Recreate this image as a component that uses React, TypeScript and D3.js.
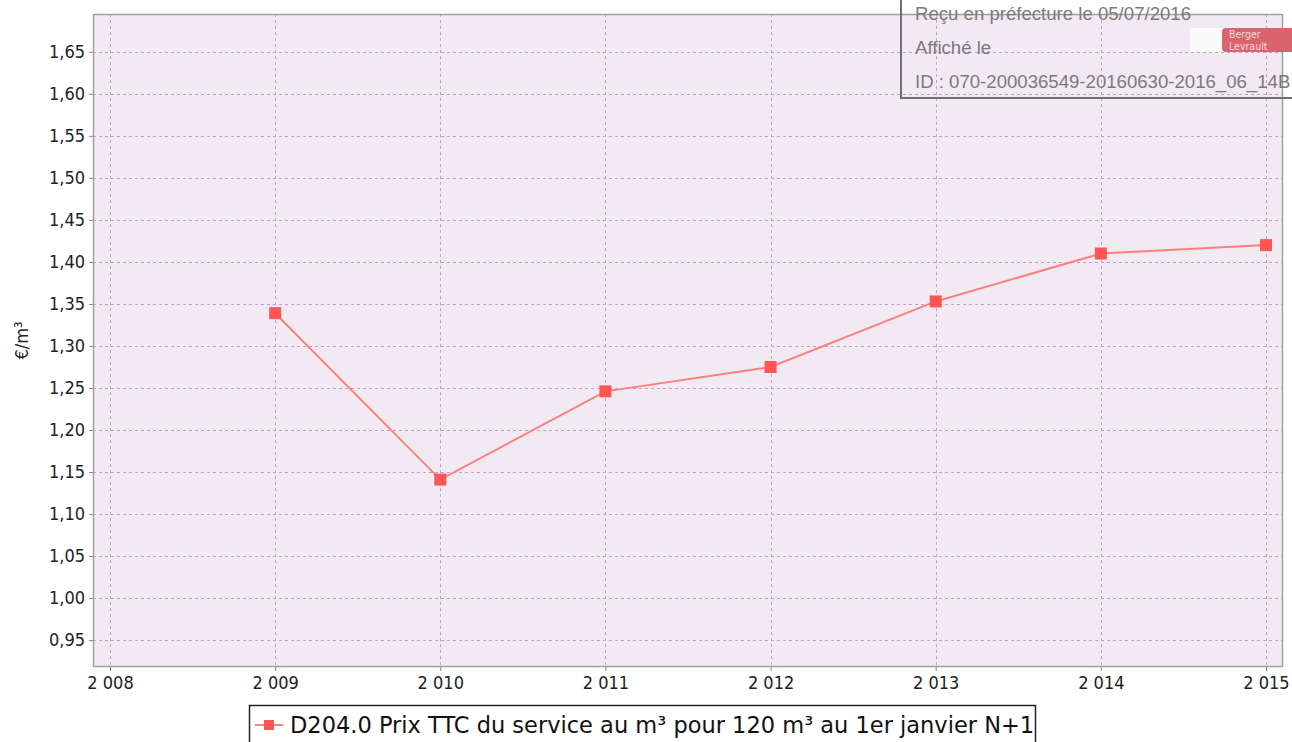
import { useEffect, useRef } from 'react';
import * as d3 from 'd3';

const years = [2009, 2010, 2011, 2012, 2013, 2014, 2015];
const prices = [1.339, 1.141, 1.246, 1.275, 1.353, 1.41, 1.42];
const xTicks = [2008, 2009, 2010, 2011, 2012, 2013, 2014, 2015];
const yTicks = [0.95, 1.0, 1.05, 1.1, 1.15, 1.2, 1.25, 1.3, 1.35, 1.4, 1.45, 1.5, 1.55, 1.6, 1.65];
const seriesName = 'D204.0 Prix TTC du service au m³ pour 120 m³ au 1er janvier N+1';
const stampLines = [
  'Reçu en préfecture le 05/07/2016',
  'Affiché le',
  'ID : 070-200036549-20160630-2016_06_14B',
];

const W = 1292;
const H = 742;
const LEFT = 93;
const RIGHT = 1283;
const TOP = 14;
const BOTTOM = 667;
const LINE = '#ff7f7f';
const MARK = '#ff5555';
const FONT = '"DejaVu Sans Condensed", "DejaVu Sans", sans-serif';

export default function App() {
  const svgRef = useRef<SVGSVGElement>(null);

  useEffect(() => {
    if (!svgRef.current) return;
    const svg = d3.select(svgRef.current);
    svg.selectAll('*').remove();

    const x = d3.scaleLinear().domain([2007.897, 2015.103]).range([LEFT, RIGHT]);
    const y = d3.scaleLinear().domain([0.918, 1.695]).range([BOTTOM, TOP]);

    // plot background
    svg.append('rect')
      .attr('x', LEFT).attr('y', TOP)
      .attr('width', RIGHT - LEFT).attr('height', BOTTOM - TOP)
      .attr('fill', '#f2eaf2');

    // grid
    const grid = svg.append('g').attr('stroke', '#c89ccc').attr('stroke-width', 1)
      .attr('stroke-dasharray', '3,3');
    grid.selectAll('line.h').data(yTicks).join('line')
      .attr('x1', LEFT).attr('x2', RIGHT)
      .attr('y1', (d) => Math.round(y(d)) + 0.5).attr('y2', (d) => Math.round(y(d)) + 0.5);
    grid.selectAll('line.v').data(xTicks).join('line')
      .attr('y1', TOP).attr('y2', BOTTOM)
      .attr('x1', (d) => Math.round(x(d)) + 0.5).attr('x2', (d) => Math.round(x(d)) + 0.5);

    // frame
    svg.append('rect')
      .attr('x', LEFT + 0.5).attr('y', TOP + 0.5)
      .attr('width', RIGHT - LEFT - 1).attr('height', BOTTOM - TOP - 1)
      .attr('fill', 'none').attr('stroke', '#a0a0a0').attr('stroke-width', 1.5);

    // y axis
    const yAxis = svg.append('g').attr('transform', `translate(${LEFT},0)`)
      .call(d3.axisLeft(y).tickValues(yTicks).tickSize(4).tickPadding(4)
        .tickFormat((d) => d3.format('.2f')(d as number).replace('.', ',')));
    yAxis.select('.domain').remove();
    yAxis.selectAll('line').attr('stroke', '#888');
    yAxis.selectAll('text').attr('font-family', FONT).attr('font-size', 18).attr('fill', '#222');

    // x axis
    const xAxis = svg.append('g').attr('transform', `translate(0,${BOTTOM})`)
      .call(d3.axisBottom(x).tickValues(xTicks).tickSize(4).tickPadding(5)
        .tickFormat((d) => {
          const s = String(d);
          return s[0] + ' ' + s.slice(1);
        }));
    xAxis.select('.domain').remove();
    xAxis.selectAll('line').attr('stroke', '#888');
    xAxis.selectAll('text').attr('font-family', FONT).attr('font-size', 18).attr('fill', '#222');

    // y title
    svg.append('text')
      .attr('transform', `translate(28,${(TOP + BOTTOM) / 2}) rotate(-90)`)
      .attr('text-anchor', 'middle')
      .attr('font-family', FONT).attr('font-size', 18).attr('fill', '#222')
      .text('€/m³');

    // series
    const pts = years.map((yr, i) => [yr, prices[i]] as [number, number]);
    svg.append('path')
      .datum(pts)
      .attr('d', d3.line<[number, number]>().x((d) => x(d[0])).y((d) => y(d[1])))
      .attr('fill', 'none').attr('stroke', LINE).attr('stroke-width', 2);
    svg.selectAll('rect.pt').data(pts).join('rect')
      .attr('x', (d) => x(d[0]) - 6).attr('y', (d) => y(d[1]) - 6)
      .attr('width', 12).attr('height', 12)
      .attr('fill', MARK);

    // legend
    const leg = svg.append('g');
    leg.append('rect')
      .attr('x', 249.5).attr('y', 705.5).attr('width', 786).attr('height', 50)
      .attr('fill', 'white').attr('stroke', '#222').attr('stroke-width', 1.5);
    leg.append('line').attr('x1', 255).attr('x2', 283).attr('y1', 725).attr('y2', 725)
      .attr('stroke', LINE).attr('stroke-width', 2);
    leg.append('rect').attr('x', 264).attr('y', 720).attr('width', 10).attr('height', 10)
      .attr('fill', MARK);
    leg.append('text')
      .attr('x', 290).attr('y', 733)
      .attr('font-family', '"DejaVu Sans", sans-serif').attr('font-size', 22.5).attr('fill', '#111')
      .text(seriesName);

    // prefecture stamp
    const st = svg.append('g');
    st.append('rect')
      .attr('x', 1190).attr('y', 28).attr('width', 34).attr('height', 24)
      .attr('fill', '#fafafa');
    st.append('rect')
      .attr('x', 1222).attr('y', 28).attr('width', 80).attr('height', 24).attr('rx', 4)
      .attr('fill', '#d9636f');
    st.append('text').attr('x', 1229).attr('y', 38)
      .attr('font-family', FONT).attr('font-size', 10.5).attr('fill', '#f6d8dc').text('Berger');
    st.append('text').attr('x', 1229).attr('y', 50)
      .attr('font-family', FONT).attr('font-size', 10.5).attr('fill', '#f6d8dc').text('Levrault');
    st.append('rect')
      .attr('x', 901).attr('y', -10).attr('width', 420).attr('height', 108)
      .attr('fill', 'none').attr('stroke', '#6e6e6e').attr('stroke-width', 2);
    st.selectAll('text.s').data(stampLines).join('text')
      .attr('x', 915).attr('y', (_, i) => 20 + i * 34)
      .attr('font-family', '"Liberation Sans", Arial, sans-serif').attr('font-size', 18.6)
      .attr('fill', '#7a7a7a')
      .text((d) => d);
  }, []);

  return (
    <div style={{ position: 'absolute', left: 0, top: 0 }}>
      <svg ref={svgRef} width={W} height={H} style={{ display: 'block', background: 'white' }} />
    </div>
  );
}
